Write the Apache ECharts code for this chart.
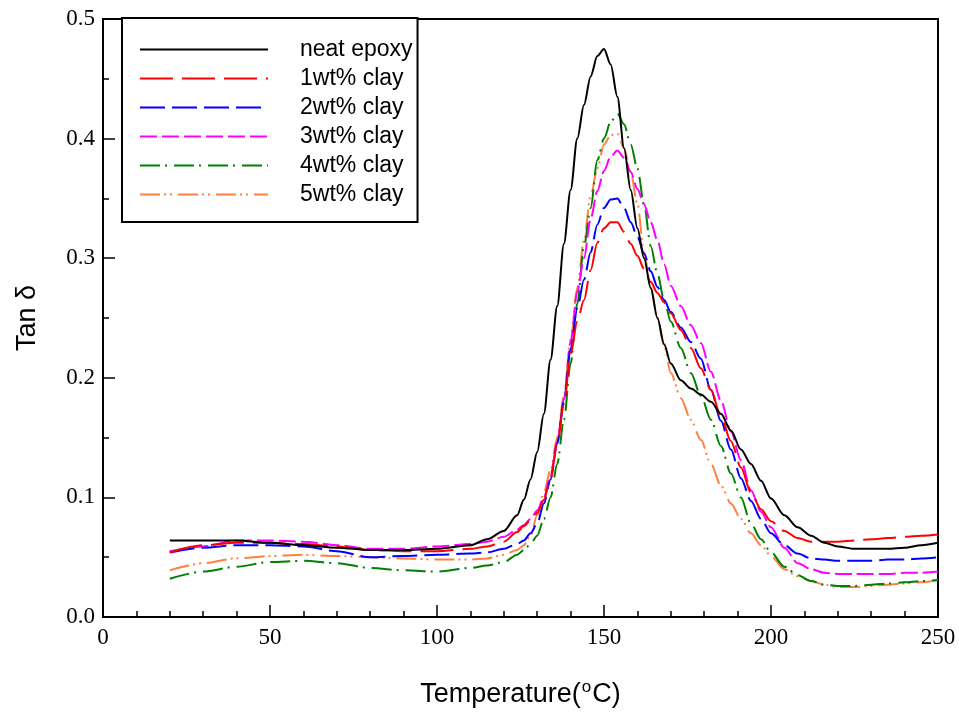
<!DOCTYPE html>
<html>
<head>
<meta charset="utf-8">
<script src="https://cdn.jsdelivr.net/npm/echarts@6/dist/echarts.min.js"></script>
<style>
  html, body { margin: 0; padding: 0; background: #fff; }
  #chart { width: 959px; height: 713px; }
</style>
</head>
<body>
<div id="chart"></div>
<script>
// Temperature sampling points (°C), shared by every curve
const temperature = [20,30,40,50,60,70,80,90,100,110,115,120,
  124,126,128,130,132,134,136,138,140,142,144,146,148,150,152,154,156,158,160,162,164,166,168,170,
  173,176,179,182,185,188,191,194,197,200,204,208,212,216,220,225,230,235,240,245,250];

// Tan δ values for each formulation
const neatEpoxy = [0.064,0.064,0.064,0.062,0.060,0.058,0.056,0.056,0.057,0.060,0.065,0.072,
  0.085,0.098,0.115,0.138,0.170,0.215,0.260,0.312,0.357,0.400,0.428,0.452,0.469,0.475,0.462,0.435,0.392,0.357,0.325,0.300,0.275,0.250,0.228,0.212,
  0.198,0.191,0.186,0.180,0.170,0.156,0.140,0.128,0.114,0.099,0.085,0.075,0.068,0.062,0.059,0.057,0.057,0.057,0.058,0.060,0.062];
const clay1 = [0.054,0.060,0.062,0.062,0.061,0.059,0.056,0.055,0.055,0.057,0.059,0.063,
  0.071,0.076,0.081,0.087,0.098,0.116,0.145,0.178,0.220,0.247,0.265,0.290,0.313,0.325,0.330,0.330,0.322,0.312,0.302,0.291,0.280,0.271,0.263,0.254,
  0.240,0.225,0.208,0.190,0.168,0.147,0.125,0.104,0.090,0.080,0.072,0.066,0.063,0.063,0.063,0.064,0.065,0.066,0.067,0.068,0.069];
const clay2 = [0.054,0.058,0.060,0.060,0.059,0.055,0.050,0.051,0.052,0.053,0.054,0.057,
  0.061,0.064,0.070,0.078,0.095,0.115,0.145,0.180,0.224,0.258,0.282,0.305,0.328,0.342,0.349,0.350,0.342,0.330,0.318,0.304,0.289,0.276,0.265,0.255,
  0.242,0.230,0.216,0.190,0.164,0.140,0.116,0.097,0.082,0.070,0.060,0.053,0.049,0.048,0.047,0.047,0.047,0.048,0.048,0.049,0.050];
const clay3 = [0.055,0.059,0.064,0.064,0.063,0.060,0.057,0.057,0.059,0.061,0.063,0.067,
  0.073,0.077,0.082,0.089,0.100,0.118,0.147,0.182,0.230,0.272,0.300,0.333,0.356,0.373,0.385,0.390,0.384,0.372,0.358,0.345,0.330,0.315,0.295,0.277,
  0.260,0.244,0.229,0.205,0.181,0.155,0.131,0.106,0.088,0.075,0.058,0.045,0.040,0.037,0.036,0.036,0.036,0.036,0.037,0.037,0.038];
const clay4 = [0.032,0.038,0.042,0.046,0.047,0.045,0.041,0.039,0.038,0.041,0.043,0.046,
  0.052,0.056,0.061,0.068,0.082,0.100,0.128,0.165,0.212,0.262,0.310,0.342,0.382,0.400,0.414,0.421,0.412,0.395,0.375,0.345,0.310,0.287,0.265,0.247,
  0.225,0.204,0.185,0.165,0.143,0.120,0.100,0.078,0.065,0.054,0.042,0.035,0.030,0.027,0.026,0.026,0.027,0.028,0.029,0.030,0.031];
const clay5 = [0.039,0.045,0.049,0.051,0.052,0.051,0.050,0.049,0.048,0.048,0.049,0.052,
  0.056,0.060,0.068,0.085,0.104,0.123,0.150,0.185,0.232,0.275,0.315,0.352,0.375,0.395,0.403,0.404,0.392,0.372,0.345,0.305,0.275,0.250,0.227,0.204,
  0.183,0.165,0.148,0.128,0.110,0.095,0.082,0.070,0.060,0.051,0.040,0.034,0.030,0.027,0.025,0.025,0.026,0.027,0.028,0.029,0.031];

const seriesNames = ['neat epoxy', '1wt% clay', '2wt% clay', '3wt% clay', '4wt% clay', '5wt% clay'];
const seriesValues = [neatEpoxy, clay1, clay2, clay3, clay4, clay5];
const seriesColors = ['#000000', '#ff0000', '#0000ff', '#ff00ff', '#008000', '#ff8040'];
const seriesDashes = ['solid', [33, 9], [25, 7], [17, 5], [20, 5, 2, 7], [20, 4, 2, 4, 2, 6]];

// Axis tick labels
const xTicks = [0, 50, 100, 150, 200, 250];
const yTicks = [0.0, 0.1, 0.2, 0.3, 0.4, 0.5];

const chart = echarts.init(document.getElementById('chart'));

const tickLabelStyle = { fontFamily: 'Liberation Serif', fontSize: 23, color: '#000' };

chart.setOption({
  animation: false,
  backgroundColor: '#fff',
  grid: {
    left: 103, right: 21, top: 19, bottom: 96,
    show: true, borderColor: '#000', borderWidth: 2, backgroundColor: 'transparent'
  },
  legend: {
    orient: 'vertical',
    left: 122, top: 18,
    padding: [20, 5, 16, 17],
    backgroundColor: '#fff',
    borderColor: '#000', borderWidth: 2, borderRadius: 0,
    itemWidth: 128, itemHeight: 20, itemGap: 6,
    // the line sample alone marks each entry; the centre marker is hidden
    itemStyle: { opacity: 0, borderWidth: 0 },
    data: seriesNames,
    textStyle: { fontFamily: 'Liberation Sans, Arial', fontSize: 23, color: '#000', padding: [0, 0, 0, 27] }
  },
  xAxis: {
    type: 'value',
    min: xTicks[0], max: xTicks[xTicks.length - 1], interval: xTicks[1] - xTicks[0],
    name: 'Temperature({sup|o}C)',
    nameLocation: 'middle', nameGap: 62,
    nameTextStyle: {
      fontFamily: 'Liberation Sans, Arial', fontSize: 27, color: '#000',
      rich: { sup: { fontFamily: 'Liberation Sans, Arial', fontSize: 17, color: '#000', padding: [0, 1, 14, 1] } }
    },
    axisLine: { show: true, lineStyle: { color: '#000', width: 2 } },
    axisTick: { show: true, inside: true, length: 12, lineStyle: { color: '#000', width: 1.5 } },
    minorTick: { show: true, splitNumber: 5, length: 6, lineStyle: { color: '#000', width: 1.5 } },
    splitLine: { show: false },
    axisLabel: Object.assign({ margin: 9, formatter: v => String(v) }, tickLabelStyle)
  },
  yAxis: {
    type: 'value',
    min: yTicks[0], max: yTicks[yTicks.length - 1], interval: 0.1,
    name: 'Tan δ',
    nameLocation: 'middle', nameGap: 62,
    nameTextStyle: { fontFamily: 'Liberation Sans, Arial', fontSize: 27, color: '#000' },
    axisLine: { show: true, lineStyle: { color: '#000', width: 2 } },
    axisTick: { show: true, inside: true, length: 12, lineStyle: { color: '#000', width: 1.5 } },
    minorTick: { show: true, splitNumber: 2, length: 6, lineStyle: { color: '#000', width: 1.5 } },
    splitLine: { show: false },
    axisLabel: Object.assign({ margin: 8, formatter: v => v.toFixed(1) }, tickLabelStyle)
  },
  series: seriesNames.map((name, k) => ({
    name: name,
    type: 'line',
    data: temperature.map((t, i) => [t, seriesValues[k][i]]),
    showSymbol: false,
    symbol: 'none',
    smooth: 0.3,
    smoothMonotone: 'x',
    color: seriesColors[k],
    lineStyle: { color: seriesColors[k], width: 2, type: seriesDashes[k] },
    z: 10 - k
  }))
});
</script>
</body>
</html>
